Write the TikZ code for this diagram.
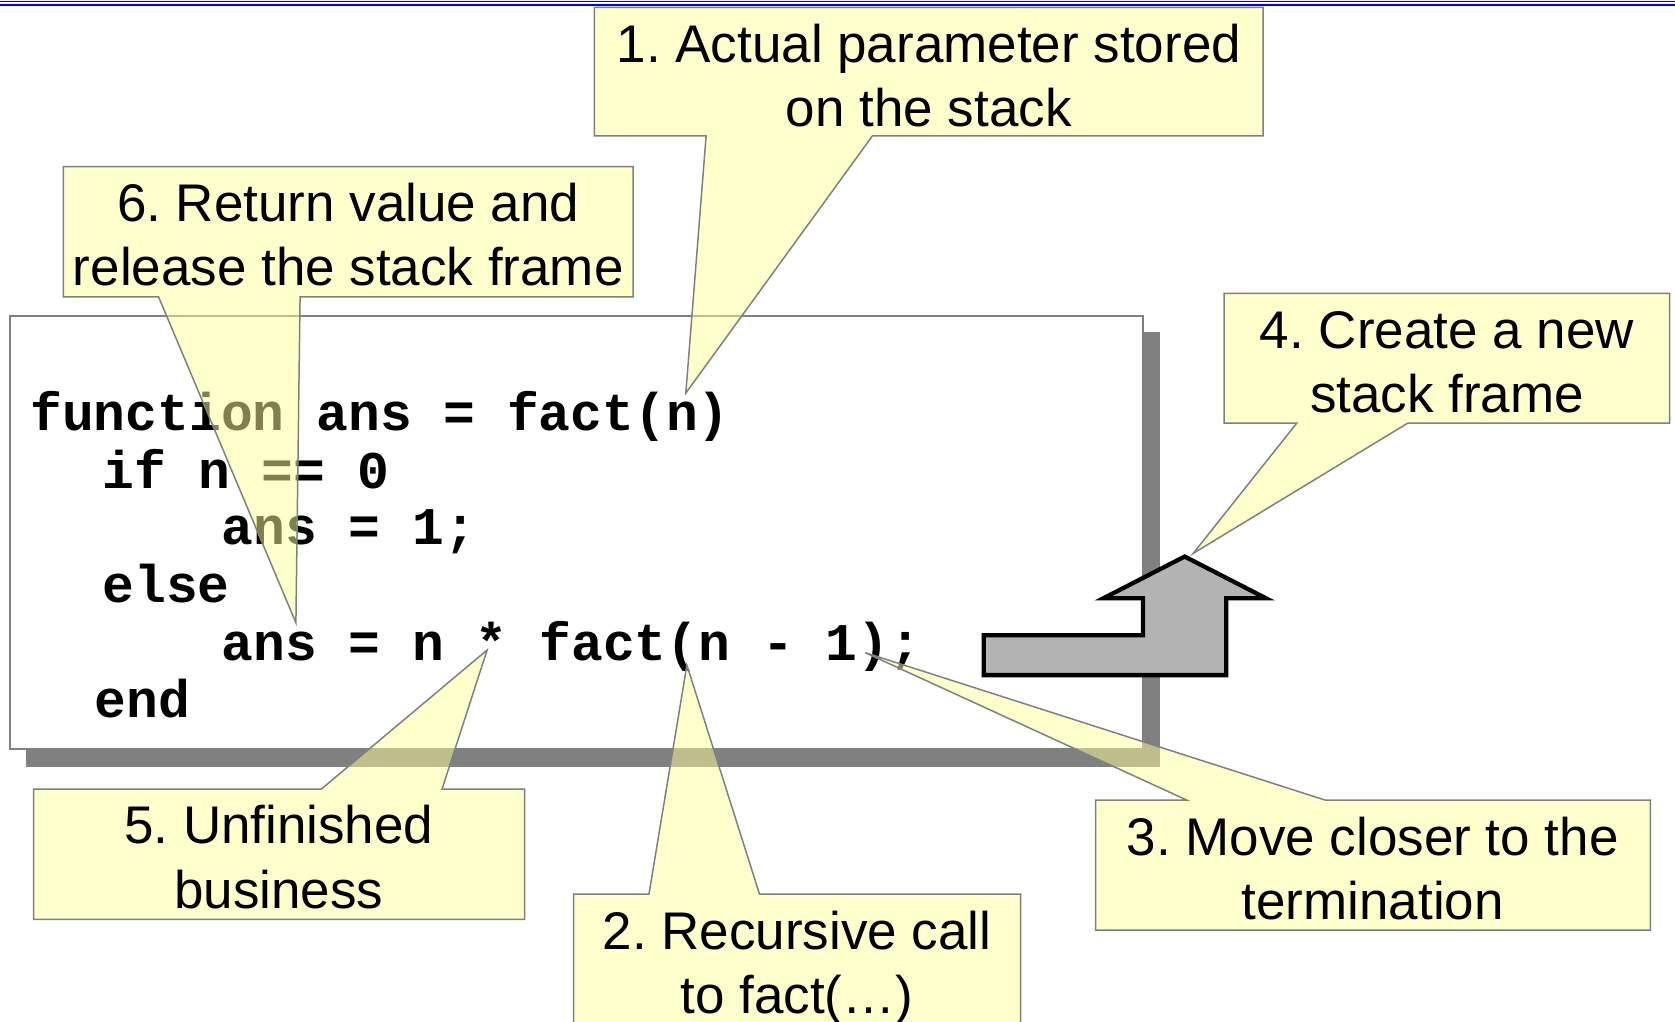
\documentclass[tikz,border=0pt]{standalone}
\usepackage{fontspec}
\setmainfont{Liberation Sans}
\setmonofont{Liberation Mono}
\frenchspacing
\definecolor{cyellow}{HTML}{FFFF99}
\definecolor{cgray}{HTML}{808080}
\definecolor{agray}{HTML}{B3B3B3}
\definecolor{topblue}{HTML}{0000FF}
\begin{document}
\begin{tikzpicture}[x=0.5pt,y=-0.5pt,
  callout/.style={draw=cgray, line width=0.7pt, fill=cyellow, fill opacity=0.5, line join=miter},
  ctext/.style={font={\fontsize{24.8}{29}\selectfont}, anchor=base, inner sep=0pt},
  code/.style={font={\ttfamily\bfseries\fontsize{24.8}{29}\selectfont}, anchor=base west, inner sep=0pt},
  shadowbox/.style={fill=cgray, draw=none},
  codebox/.style={fill=white, draw=cgray, line width=1pt},
  bentarrow/.style={fill=agray, draw=black, line width=2pt, line join=miter}
]
\clip (0,0) rectangle (1568,956);
\fill[white] (0,0) rectangle (1568,956);
% top blue rules
\draw[topblue, line width=0.5pt] (0,1.4) -- (1568,1.4);
\draw[topblue, line width=1pt] (0,4.7) -- (1568,4.7);

% code box with shadow
\fill[shadowbox] (24,311) rectangle (1086,718);
\draw[codebox] (9.6,296) rectangle (1070,701);

\node[code] (l1) at (28,403) {function ans = fact(n)};
\node[code] (l2) at (96,457) {if n == 0};
\node[code] (l3) at (207,510) {ans = 1;};
\node[code] (l4) at (95.5,564) {else};
\node[code] (l5) at (207,618) {ans = n * fact(n - 1);};
\node[code] (l6) at (88,672) {end};

% bent up arrow
\draw[bentarrow] (921,632) -- (921,594.6) -- (1070,594.6) -- (1070,560) -- (1033,560)
  -- (1109,521) -- (1185,560) -- (1148,560) -- (1148,632) -- cycle;

% tips
\coordinate (t1) at (642,368);
\coordinate (t2) at (643,622.6);
\coordinate (t3) at (810,611);
\coordinate (t4) at (1117,518);
\coordinate (t5) at (456,608.5);
\coordinate (t6) at (277,583);

% callout 1
\draw[callout] (556.4,6.9) -- (1182.5,6.9) -- (1182.5,127.3) -- (816.6,127.3) -- (t1)
  -- (661,127.3) -- (556.4,127.3) -- cycle;
\node[ctext] (c1a) at (869.5,58.5) {1. Actual parameter stored};
\node[ctext] (c1b) at (869.5,118.5) {on the stack};

% callout 6
\draw[callout] (59.4,156) -- (592.6,156) -- (592.6,277.8) -- (280.9,277.8) -- (t6)
  -- (148.4,277.8) -- (59.4,277.8) -- cycle;
\node[ctext] (c6a) at (326,207.5) {6. Return value and};
\node[ctext] (c6b) at (326,267.5) {release the stack frame};

% callout 4
\draw[callout] (1146,274.6) -- (1563,274.6) -- (1563,396) -- (1318,396) -- (t4)
  -- (1214,396) -- (1146,396) -- cycle;
\node[ctext] (c4a) at (1354.5,326) {4. Create a new};
\node[ctext] (c4b) at (1354.5,386) {stack frame};

% callout 5
\draw[callout] (31.5,738.7) -- (300.8,738.7) -- (t5) -- (413.8,738.7) -- (491,738.7)
  -- (491,860.6) -- (31.5,860.6) -- cycle;
\node[ctext] (c5a) at (261,790) {5. Unfinished};
\node[ctext] (c5b) at (261,850) {business};

% callout 2
\draw[callout] (537,837) -- (607.5,837) -- (t2) -- (711,837) -- (955.5,837)
  -- (955.5,980) -- (537,980) -- cycle;
\node[ctext] (c2a) at (746,888.5) {2. Recursive call};
\node[ctext] (c2b) at (746,948.5) {to fact(…)};

% callout 3
\draw[callout] (1025.7,749) -- (1111,749) -- (t3) -- (1240.6,749) -- (1545,749)
  -- (1545,870.6) -- (1025.7,870.6) -- cycle;
\node[ctext] (c3a) at (1285,800.5) {3. Move closer to the};
\node[ctext] (c3b) at (1285,860.5) {termination};
\end{tikzpicture}
\end{document}
